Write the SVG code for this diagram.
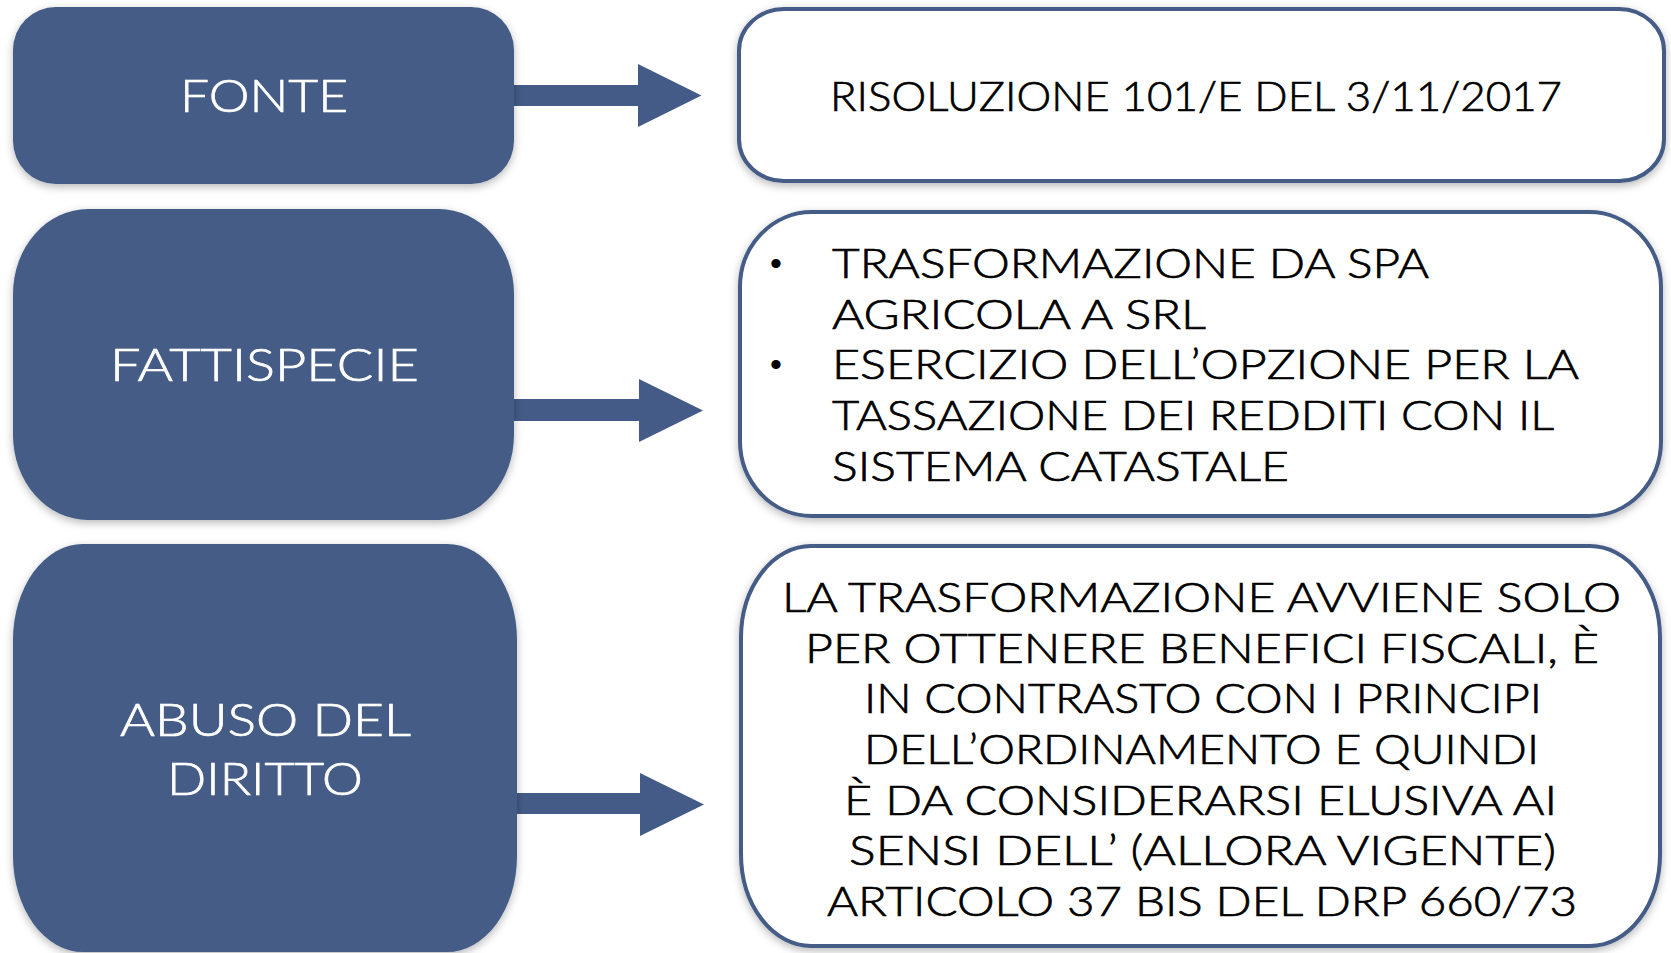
<svg xmlns="http://www.w3.org/2000/svg" width="1671" height="953" viewBox="0 0 1671 953">
<defs>
<filter id="sh" x="-10%" y="-10%" width="120%" height="125%">
<feDropShadow dx="0" dy="3" stdDeviation="4" flood-color="#000" flood-opacity="0.28"/>
</filter>
<style>
.lbox{fill:#445B87;filter:url(#sh);}
.rbox{fill:#fff;stroke:#445B87;stroke-width:4;filter:url(#sh);}
.arrow{fill:#445B87;}
.lt{font-family:Lato,"Liberation Sans",sans-serif;font-weight:300;font-size:46px;fill:#fff;stroke:#fff;stroke-width:0.7;}
.rt{font-family:Lato,"Liberation Sans",sans-serif;font-weight:300;font-size:42px;fill:#000;stroke:#000;stroke-width:0.7;}
.bu{font-family:"Liberation Sans",sans-serif;font-size:34px;fill:#000;}
</style>
</defs>
<rect width="1671" height="953" fill="#fff"/>
<g id="connectors">
<polygon class="arrow" points="514,85 638,85 638,64 701.5,95.5 638,127 638,106 514,106"/>
<polygon class="arrow" points="514,399 639,399 639,379 703,410.5 639,442 639,421 514,421"/>
<polygon class="arrow" points="517,793 640,793 640,773 704,804.5 640,836 640,814 517,814"/>
</g>
<g id="fonte">
<rect class="lbox" x="13" y="7" width="501" height="177" rx="43" ry="43"/>
<text class="lt" x="180" y="112" textLength="168" lengthAdjust="spacingAndGlyphs">FONTE</text>
</g>
<g id="fattispecie">
<rect class="lbox" x="13" y="209" width="501" height="311" rx="75" ry="85"/>
<text class="lt" x="110" y="381" textLength="309" lengthAdjust="spacingAndGlyphs">FATTISPECIE</text>
</g>
<g id="abuso">
<rect class="lbox" x="13" y="544" width="504" height="408" rx="70" ry="96"/>
<text class="lt" x="120" y="736" textLength="291" lengthAdjust="spacingAndGlyphs">ABUSO DEL</text>
<text class="lt" x="167" y="795" textLength="196" lengthAdjust="spacingAndGlyphs">DIRITTO</text>
</g>
<g id="risoluzione">
<rect class="rbox" x="739" y="9" width="925" height="172" rx="45" ry="42"/>
<text class="rt" x="830" y="111" textLength="732" lengthAdjust="spacingAndGlyphs">RISOLUZIONE 101/E DEL 3/11/2017</text>
</g>
<g id="trasformazione">
<rect class="rbox" x="740" y="212" width="921" height="304" rx="72" ry="75"/>
<text class="bu" x="776" y="275" text-anchor="middle">•</text>
<text class="bu" x="776" y="376" text-anchor="middle">•</text>
<text class="rt" x="832" y="278" textLength="597" lengthAdjust="spacingAndGlyphs">TRASFORMAZIONE DA SPA</text>
<text class="rt" x="832" y="329" textLength="374" lengthAdjust="spacingAndGlyphs">AGRICOLA A SRL</text>
<text class="rt" x="832" y="379" textLength="747" lengthAdjust="spacingAndGlyphs">ESERCIZIO DELL’OPZIONE PER LA</text>
<text class="rt" x="832" y="430" textLength="722" lengthAdjust="spacingAndGlyphs">TASSAZIONE DEI REDDITI CON IL</text>
<text class="rt" x="832" y="481" textLength="457" lengthAdjust="spacingAndGlyphs">SISTEMA CATASTALE</text>
</g>
<g id="conclusione">
<rect class="rbox" x="741" y="546" width="919" height="400" rx="70" ry="92"/>
<text class="rt" x="782" y="612" textLength="839" lengthAdjust="spacingAndGlyphs">LA TRASFORMAZIONE AVVIENE SOLO</text>
<text class="rt" x="805" y="663" textLength="794" lengthAdjust="spacingAndGlyphs">PER OTTENERE BENEFICI FISCALI, È</text>
<text class="rt" x="864" y="713" textLength="678" lengthAdjust="spacingAndGlyphs">IN CONTRASTO CON I PRINCIPI</text>
<text class="rt" x="864" y="764" textLength="675" lengthAdjust="spacingAndGlyphs">DELL’ORDINAMENTO E QUINDI</text>
<text class="rt" x="844" y="815" textLength="713" lengthAdjust="spacingAndGlyphs">È DA CONSIDERARSI ELUSIVA AI</text>
<text class="rt" x="849" y="865" textLength="707" lengthAdjust="spacingAndGlyphs">SENSI DELL’ (ALLORA VIGENTE)</text>
<text class="rt" x="827" y="916" textLength="750" lengthAdjust="spacingAndGlyphs">ARTICOLO 37 BIS DEL DRP 660/73</text>
</g>
</svg>
